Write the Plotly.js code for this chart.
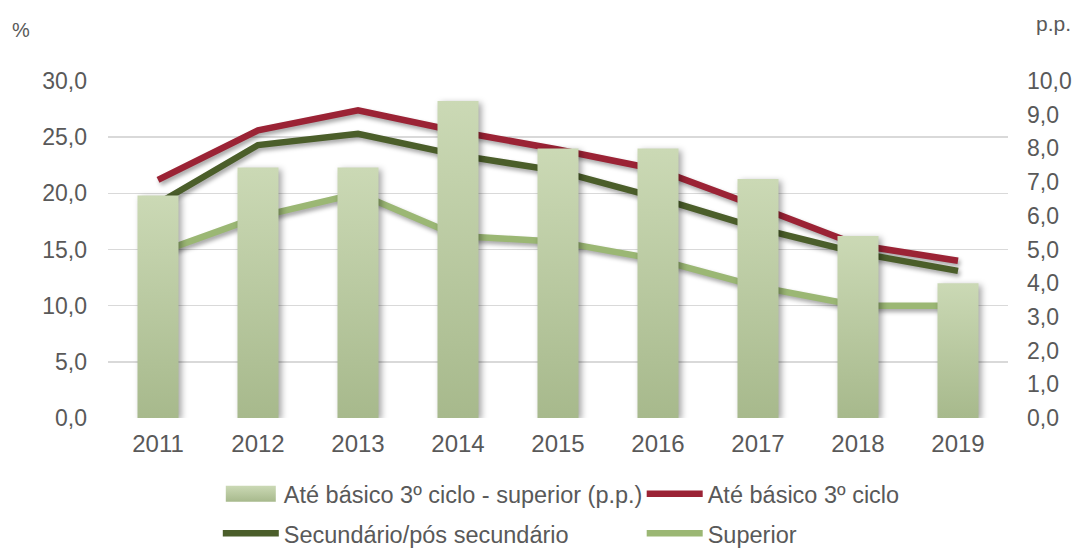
<!DOCTYPE html>
<html>
<head>
<meta charset="utf-8">
<script src="https://cdn.plot.ly/plotly-3.0.1.min.js"></script>
<style>
html,body{margin:0;padding:0;background:#fff;}
#chart{width:1075px;height:549px;}
.barlayer .point path{fill:url(#barGrad) !important; filter: drop-shadow(3px 2px 3px rgba(0,0,0,0.35));}
.scatterlayer .js-line{filter: drop-shadow(2px 3px 2px rgba(0,0,0,0.35));}
</style>
</head>
<body>
<svg width="0" height="0" style="position:absolute">
  <defs>
    <linearGradient id="barGrad" x1="0" y1="0" x2="0" y2="1">
      <stop offset="0" stop-color="#cbd9b5"/>
      <stop offset="1" stop-color="#a7b98c"/>
    </linearGradient>
  </defs>
</svg>
<div id="chart"></div>
<script>
const years = ['2011','2012','2013','2014','2015','2016','2017','2018','2019'];
const diffPP = [6.6, 7.43, 7.43, 9.41, 8.0, 8.0, 7.09, 5.4, 4.0];
const basico = [21.2, 25.6, 27.4, 25.5, 23.9, 22.1, 18.8, 15.4, 14.0];
const secundario = [19.1, 24.3, 25.3, 23.4, 22.0, 19.6, 16.9, 14.7, 13.1];
const superior = [14.7, 17.9, 20.0, 16.2, 15.7, 14.1, 11.7, 10.0, 10.0];

const names = ['Até básico 3º ciclo - superior (p.p.)', 'Até básico 3º ciclo', 'Secundário/pós secundário', 'Superior'];
const textColor = '#595959';
const fontFam = 'Liberation Sans, Arial, sans-serif';

const traces = [
  {type:'bar', x:years, y:diffPP, name:names[0], yaxis:'y2', marker:{color:'#bccba2'}, legend:'legend', hoverinfo:'none'},
  {type:'scatter', mode:'lines', x:years, y:basico, name:names[1], line:{color:'#9b2335', width:6.5}, legend:'legend2'},
  {type:'scatter', mode:'lines', x:years, y:secundario, name:names[2], line:{color:'#4b5e2a', width:6.5}, legend:'legend3'},
  {type:'scatter', mode:'lines', x:years, y:superior, name:names[3], line:{color:'#9bb774', width:6.5}, legend:'legend4'}
];

function leg(x, y) {
  return {x:x, y:y, orientation:'h', xanchor:'left', yanchor:'middle', itemwidth:56,
    font:{family:fontFam, size:23.5, color:textColor}, bgcolor:'rgba(0,0,0,0)', itemclick:false};
}
const col1 = 0.122, col2 = 0.593, row1 = -0.2255, row2 = -0.343;

const layout = {
  width:1075, height:549,
  margin:{l:108, r:67, t:81, b:131, autoexpand:false},
  paper_bgcolor:'#fff', plot_bgcolor:'#fff',
  separators:', ',
  font:{family:fontFam, size:23, color:textColor},
  bargap:0.59,
  xaxis:{type:'category', showgrid:false, showline:false, zeroline:false, ticks:'', tickfont:{size:24, color:textColor}, ticklabelstandoff:9, automargin:false},
  yaxis:{range:[0,30], dtick:5, tickformat:'.1f', showgrid:true, gridcolor:'#d9d9d9', gridwidth:1.5, zeroline:false, showline:false, ticks:'', ticklabelstandoff:20, tickfont:{size:23, color:textColor}, automargin:false},
  yaxis2:{range:[0,10], dtick:1, tickformat:'.1f', overlaying:'y', side:'right', showgrid:false, zeroline:false, showline:false, ticks:'', ticklabelstandoff:18, tickfont:{size:23, color:textColor}, automargin:false},
  legend:leg(col1, row1),
  legend2:leg(col2, row1),
  legend3:leg(col1, row2),
  legend4:leg(col2, row2),
  showlegend:true,
  annotations:[
    {text:'%', xref:'paper', yref:'paper', x:-0.109, y:1.15, xanchor:'left', yanchor:'middle', showarrow:false, font:{size:20, color:textColor}},
    {text:'p.p.', xref:'paper', yref:'paper', x:1.029, y:1.172, xanchor:'left', yanchor:'middle', showarrow:false, font:{size:21, color:textColor}}
  ]
};

Plotly.newPlot('chart', traces, layout, {displayModeBar:false, staticPlot:true}).then(function(gd){
  const bar = gd.querySelector('.legend .legendpoints path');
  if (bar) {
    bar.setAttribute('d','M-25,-8H25V8H-25Z');
    bar.style.fill = 'url(#barGrad)';
  }
});
</script>
</body>
</html>
